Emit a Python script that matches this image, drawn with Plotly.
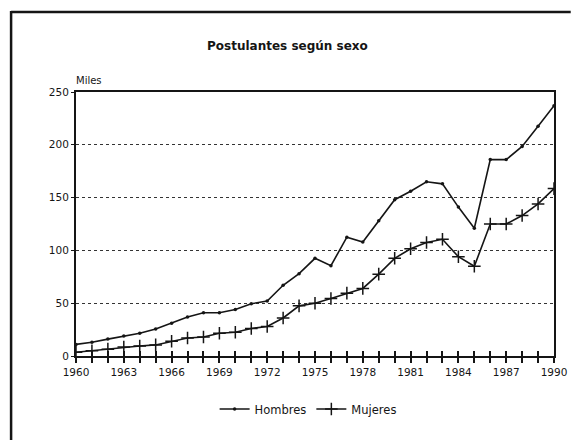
import plotly.graph_objects as go

years = list(range(1960, 1991))
hombres = [11, 13, 16, 19, 21.5, 25.5, 31, 37, 41, 41, 44, 49.5, 52, 67, 78, 92.5, 85.5,
           112.5, 108, 128, 148, 156, 165, 163, 141, 121, 186, 186, 198.5, 217.5, 237]
mujeres = [3.5, 5, 6.5, 8.5, 9.5, 10.5, 14, 17, 18, 21.5, 22.5, 26, 28, 36, 47.5, 50, 54.5,
           59.5, 64, 77.5, 92.5, 101.5, 107.5, 110.5, 94, 85, 125, 125, 133, 144, 158.5]
year_labels = [str(y) if (y - 1960) % 3 == 0 else "" for y in years]
y_ticks = [0, 50, 100, 150, 200, 250]
title = "Postulantes según sexo"
unit = "Miles"

FONT = "DejaVu Sans, Verdana, sans-serif"
INK = "#151515"

def px(x):
    return (x - 76) / 486

def py(y):
    return (356 - y) / 264

fig = go.Figure()
fig.add_trace(go.Scatter(x=years, y=hombres, name="Hombres", mode="lines+markers",
                         line=dict(color=INK, width=1.6),
                         marker=dict(symbol="circle", size=3.5, color=INK)))
fig.add_trace(go.Scatter(x=years, y=mujeres, name="Mujeres", mode="lines+markers",
                         line=dict(color=INK, width=1.6),
                         marker=dict(symbol="cross-thin", size=9, line=dict(color=INK, width=1.5))))
fig.add_trace(go.Scatter(x=years, y=[None] * len(years), xaxis="x2", showlegend=False,
                         hoverinfo="skip", mode="lines"))

fig.update_layout(
    width=579, height=440, autosize=False,
    margin=dict(l=76, r=17, t=92, b=84),
    paper_bgcolor="white", plot_bgcolor="white",
    font=dict(family=FONT, size=11, color=INK),
    showlegend=True,
    legend=dict(orientation="h", x=px(312), xanchor="center", y=py(409), yanchor="middle",
                font=dict(size=11.5, family=FONT, color=INK),
                bgcolor="rgba(0,0,0,0)"),
    xaxis=dict(range=[1960, 1990], tickvals=years, ticktext=year_labels,
               ticks="outside", ticklen=5, tickwidth=1.5, tickcolor=INK,
               showline=True, linecolor=INK, linewidth=2, mirror=True,
               showgrid=False, zeroline=False, ticklabeloverflow="allow",
               tickfont=dict(size=10.5, family=FONT, color=INK)),
    xaxis2=dict(range=[1960, 1990], overlaying="x", anchor="y", side="bottom",
                tickvals=years, ticks="inside", ticklen=5, tickwidth=1.5, tickcolor=INK,
                showticklabels=False, showgrid=False, zeroline=False, showline=False),
    yaxis=dict(range=[0, 250], tickvals=y_ticks,
               ticks="outside", ticklen=3, tickcolor=INK,
               showline=True, linecolor=INK, linewidth=2, mirror=True,
               showgrid=True, gridcolor="#333", griddash="dot", gridwidth=1,
               zeroline=False,
               tickfont=dict(size=10.5, family=FONT, color=INK)),
    annotations=[
        dict(text="<b>" + title + "</b>", xref="paper", yref="paper",
             x=px(291), y=py(46), showarrow=False,
             xanchor="center", yanchor="middle", font=dict(size=12, family=FONT, color=INK)),
        dict(text=unit, xref="paper", yref="paper", x=px(74), y=py(81),
             showarrow=False, xanchor="left", yanchor="middle",
             font=dict(size=10, family=FONT, color=INK)),
    ],
    shapes=[
        dict(type="line", xref="paper", yref="paper", x0=px(10), x1=px(579),
             y0=py(12), y1=py(12), line=dict(color=INK, width=2.5)),
        dict(type="line", xref="paper", yref="paper", x0=px(10), x1=px(10),
             y0=py(11), y1=py(440), line=dict(color=INK, width=2.5)),
    ],
)

fig.write_html(
    "out.html",
    config={"displayModeBar": False, "responsive": False},
    post_script=(
        "document.documentElement.style.overflow='hidden';"
        "document.body.style.overflow='hidden';"
        "document.body.style.margin='0';"
        "var gd=document.getElementById('{plot_id}');"
        "gd.style.width='579px';gd.style.height='440px';"
        "Plotly.relayout(gd,{width:579,height:440});"
    ),
)
